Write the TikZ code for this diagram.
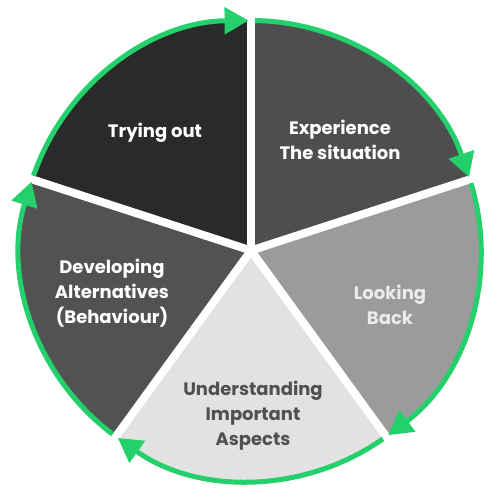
\documentclass[tikz,border=0pt]{standalone}
\usepackage{fontspec}
\setmainfont{Poppins}
\usepackage{tikz}
\usetikzlibrary{arrows.meta}
\definecolor{ringgreen}{RGB}{36,208,108}
\definecolor{tryfill}{RGB}{42,42,42}
\definecolor{expfill}{RGB}{78,78,78}
\definecolor{lookfill}{RGB}{155,155,155}
\definecolor{undfill}{RGB}{226,226,226}
\definecolor{devfill}{RGB}{82,82,82}
\definecolor{undtext}{RGB}{80,80,80}

\begin{document}
\begin{tikzpicture}[x=1bp,y=1bp,
  ring/.style={ringgreen,line width=5bp,-{Triangle[length=24bp,width=26bp]}},
  gap/.style={white,line width=8bp},
  stage/.style={align=center,font=\fontsize{18bp}{25bp}\selectfont\bfseries,white}]
\useasboundingbox (0,0) rectangle (498,501);
\begin{scope}[shift={(251,250.5)}]
% wedges
\fill[tryfill] (0,0)--(90:231) arc[start angle=90,end angle=162,radius=231]--cycle;
\fill[expfill] (0,0)--(18:231) arc[start angle=18,end angle=90,radius=231]--cycle;
\fill[lookfill] (0,0)--(-54:231) arc[start angle=-54,end angle=18,radius=231]--cycle;
\fill[undfill] (0,0)--(-126:231) arc[start angle=-126,end angle=-54,radius=231]--cycle;
\fill[devfill] (0,0)--(162:231) arc[start angle=162,end angle=234,radius=231]--cycle;
% gaps
\draw[gap] (0,0)--(90:245);
\draw[gap] (0,0)--(18:245);
\draw[gap] (0,0)--(-54:245);
\draw[gap] (0,0)--(-126:245);
\draw[gap] (0,0)--(162:245);
% green ring
\draw[ring] (161:230) arc[start angle=161,end angle=90.6,radius=230];
\draw[ring] (89:230) arc[start angle=89,end angle=18.6,radius=230];
\draw[ring] (17:230) arc[start angle=17,end angle=-53.4,radius=230];
\draw[ring] (-55:230) arc[start angle=-55,end angle=-125.4,radius=230];
\draw[ring] (-127:230) arc[start angle=-127,end angle=-197.4,radius=230];
\end{scope}
% labels
\node[stage] (try) at (155,368) {Trying out};
\node[stage] (exp) at (340,361) {Experience\\The situation};
\node[stage,text=white!92!black] (look) at (390,196) {Looking\\Back};
\node[stage,text=undtext] (und) at (253,85) {Understanding\\Important\\Aspects};
\node[stage] (dev) at (112,208) {Developing\\Alternatives\\(Behaviour)};
\end{tikzpicture}
\end{document}
